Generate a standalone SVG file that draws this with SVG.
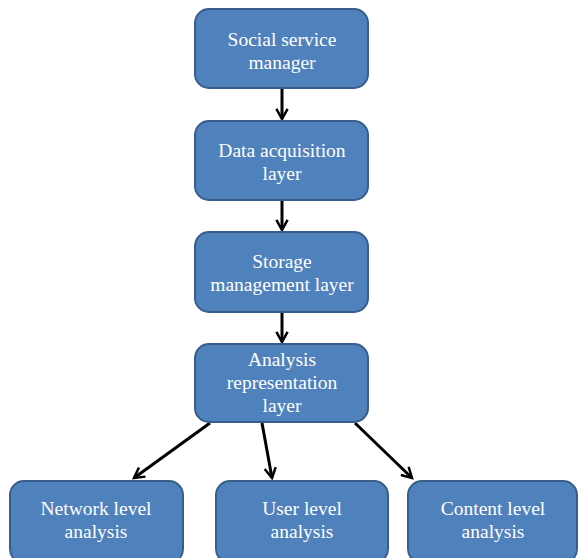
<svg xmlns="http://www.w3.org/2000/svg" width="579" height="558" viewBox="0 0 579 558">
<style>
.box{fill:#4F81BD;stroke:#385D8A;stroke-width:2}
.t{fill:#fff;font-family:"Liberation Serif","Times New Roman",serif;font-size:19.5px;text-anchor:middle}
.c{stroke:#000;stroke-width:3;fill:none}
</style>
<defs>
<marker id="ah" viewBox="0 0 12 12" refX="10" refY="6" markerWidth="4.5" markerHeight="4.5" orient="auto" markerUnits="strokeWidth">
<path d="M1,1 L10,6 L1,11" fill="none" stroke="#000" stroke-width="2.2"/>
</marker>
</defs>
<rect width="579" height="558" fill="#fff"/>
<g id="connectors">
<line class="c" x1="282" y1="89" x2="282" y2="119" marker-end="url(#ah)"/>
<line class="c" x1="282" y1="201" x2="282" y2="230" marker-end="url(#ah)"/>
<line class="c" x1="282" y1="313" x2="282" y2="342" marker-end="url(#ah)"/>
<line class="c" x1="210" y1="423" x2="134" y2="478" marker-end="url(#ah)"/>
<line class="c" x1="262" y1="423" x2="272" y2="478" marker-end="url(#ah)"/>
<line class="c" x1="355" y1="423" x2="412" y2="478" marker-end="url(#ah)"/>
</g>
<g id="n1"><rect class="box" x="195" y="9" width="173" height="79" rx="14"/>
<text class="t" x="282" y="46">Social service</text><text class="t" x="282" y="69">manager</text></g>
<g id="n2"><rect class="box" x="195" y="121" width="173" height="79" rx="14"/>
<text class="t" x="282" y="157">Data acquisition</text><text class="t" x="282" y="180">layer</text></g>
<g id="n3"><rect class="box" x="195" y="232" width="173" height="80" rx="14"/>
<text class="t" x="282" y="268">Storage</text><text class="t" x="282" y="291">management layer</text></g>
<g id="n4"><rect class="box" x="195" y="344" width="173" height="78" rx="14"/>
<text class="t" x="282" y="366">Analysis</text><text class="t" x="282" y="389">representation</text><text class="t" x="282" y="412">layer</text></g>
<g id="n5"><rect class="box" x="10" y="481" width="173" height="82" rx="14"/>
<text class="t" x="96" y="515">Network level</text><text class="t" x="96" y="538">analysis</text></g>
<g id="n6"><rect class="box" x="216" y="481" width="172" height="82" rx="14"/>
<text class="t" x="302" y="515">User level</text><text class="t" x="302" y="538">analysis</text></g>
<g id="n7"><rect class="box" x="408" y="481" width="169" height="82" rx="14"/>
<text class="t" x="493" y="515">Content level</text><text class="t" x="493" y="538">analysis</text></g>
</svg>
